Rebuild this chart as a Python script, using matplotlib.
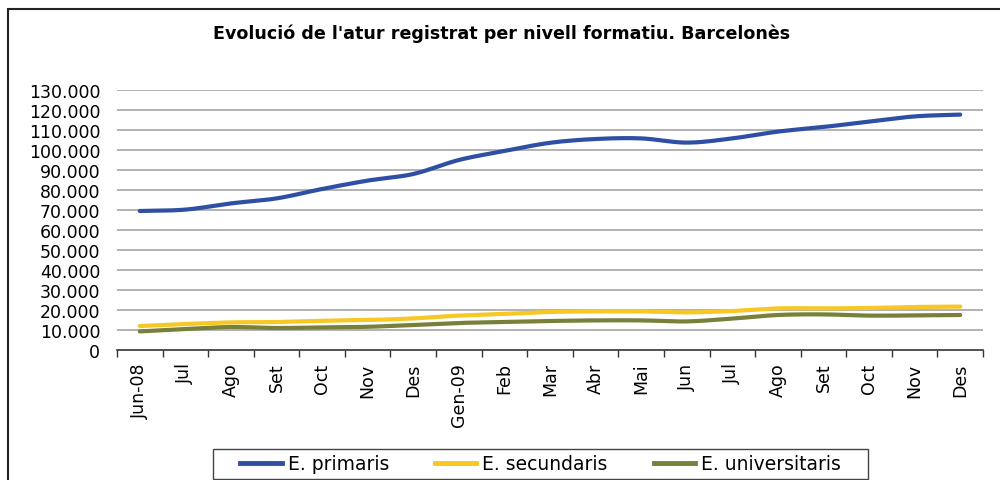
import numpy as np
import matplotlib
matplotlib.use("Agg")
import matplotlib.pyplot as plt
from matplotlib.patches import Rectangle
from matplotlib.ticker import FuncFormatter, FixedLocator
from matplotlib.lines import Line2D

categories = ["Jun-08", "Jul", "Ago", "Set", "Oct", "Nov", "Des", "Gen-09", "Feb", "Mar",
              "Abr", "Mai", "Jun", "Jul", "Ago", "Set", "Oct", "Nov", "Des"]
primaris = [69500, 70200, 73300, 75800, 80500, 84700, 88000, 95000, 99500, 103600,
            105500, 105800, 103700, 105800, 109200, 111500, 114200, 116800, 117700]
secundaris = [12000, 13000, 13800, 14000, 14600, 15000, 15800, 17200, 18000, 19000,
              19300, 19300, 18800, 19500, 20800, 20800, 21000, 21500, 21700]
universitaris = [9300, 10500, 11500, 11000, 11300, 11600, 12500, 13500, 14000, 14500,
                 14800, 14800, 14300, 15700, 17500, 17800, 17200, 17300, 17500]
series_names = ["E. primaris", "E. secundaris", "E. universitaris"]
colors = ["#2E4FA3", "#F7C723", "#78803A"]
title = "Evolució de l'atur registrat per nivell formatiu. Barcelonès"


def smooth(y, n=20):
    y = np.asarray(y, dtype=float)
    x = np.arange(len(y), dtype=float)
    m = np.zeros_like(y)
    m[1:-1] = (y[2:] - y[:-2]) / 2.0
    m[0] = (y[1] - y[0])
    m[-1] = (y[-1] - y[-2])
    xs, ys = [], []
    for i in range(len(y) - 1):
        t = np.linspace(0, 1, n, endpoint=(i == len(y) - 2))
        h00 = 2 * t**3 - 3 * t**2 + 1
        h10 = t**3 - 2 * t**2 + t
        h01 = -2 * t**3 + 3 * t**2
        h11 = t**3 - t**2
        xs.append(x[i] + t)
        ys.append(h00 * y[i] + h10 * m[i] + h01 * y[i + 1] + h11 * m[i + 1])
    return np.concatenate(xs), np.concatenate(ys)


W, H = 1000, 481
fig = plt.figure(figsize=(W / 100, H / 100), dpi=100)
fig.patch.set_facecolor("white")

ax = fig.add_axes([117 / W, 1 - 351 / H, (983 - 117) / W, (351 - 91) / H])
ax.set_xlim(-0.5, len(categories) - 0.5)
ax.set_ylim(0, 130000)

for yv in range(10000, 130001, 10000):
    ax.axhline(yv, color="#A6A6A6", lw=1.2, zorder=1)

for vals, c in zip([primaris, secundaris, universitaris], colors):
    xs, ys = smooth(vals)
    ax.plot(xs, ys, color=c, lw=3.0, solid_capstyle="round", zorder=3)

ax.set_yticks(range(0, 130001, 10000))
ax.yaxis.set_major_formatter(FuncFormatter(lambda v, p: f"{int(v):,}".replace(",", ".")))
ax.tick_params(axis="y", length=0, pad=12, labelsize=12.5)

ax.set_xticks(range(len(categories)))
ax.set_xticklabels(categories, rotation=90)
ax.xaxis.set_minor_locator(FixedLocator(np.arange(-0.5, len(categories), 1.0)))
ax.tick_params(axis="x", which="major", length=0, pad=9, labelsize=12.5)
ax.tick_params(axis="x", which="minor", length=5, width=1.0, color="#333333")

for s in ["top", "right", "left"]:
    ax.spines[s].set_visible(False)
ax.spines["bottom"].set_color("#333333")
ax.spines["bottom"].set_linewidth(1.2)

fig.text(502 / W, 1 - 34 / H, title, ha="center", va="center",
         fontsize=12.6, fontweight="bold")

# outer chart frame
fig.add_artist(Rectangle((8 / W, -0.1), 1.2, 1 - 10 / H + 0.1, transform=fig.transFigure,
                         fill=False, edgecolor="#222222", lw=1.5, clip_on=False))

# legend box
fig.add_artist(Rectangle((213 / W, 1 - 480 / H), (868 - 213) / W, 30 / H,
                         transform=fig.transFigure, fill=True, facecolor="white",
                         edgecolor="#444444", lw=1.0, zorder=5))

handles = [Line2D([0], [0], color=c, lw=3.5) for c in colors]
leg = fig.legend(handles, series_names, loc="center",
                 bbox_to_anchor=(540.5 / W, 1 - 465 / H), ncol=3, frameon=False,
                 fontsize=13.5, handlelength=2.2, handletextpad=0.32,
                 columnspacing=2.45, borderpad=0.0, borderaxespad=0)
leg.set_zorder(6)

fig.savefig("out.png", dpi=100, facecolor="white")
